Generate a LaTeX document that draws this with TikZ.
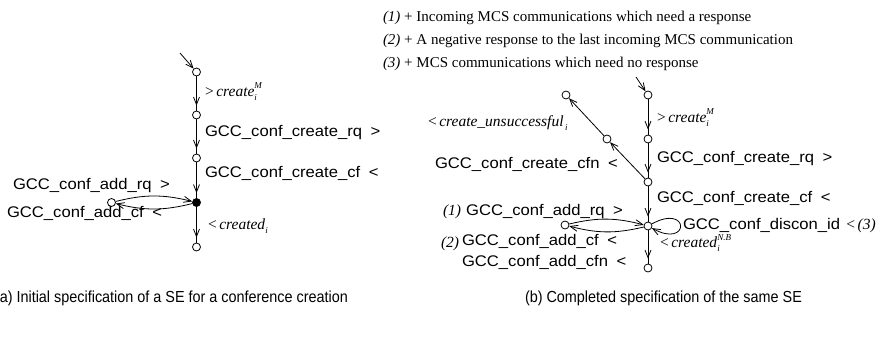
\documentclass[tikz,border=0pt]{standalone}
\usepackage{fontspec}
\setmainfont{Liberation Serif}
\newfontfamily\gccfont[FakeStretch=1.08]{Liberation Sans}
\newfontfamily\capfont[FakeStretch=0.9]{Liberation Sans}
\usetikzlibrary{arrows.meta,decorations.markings}
\newcommand{\gcc}[1]{{\gccfont\fontsize{15.4}{16}\selectfont #1}}
\newcommand{\itl}[1]{{\fontsize{15.5}{16}\selectfont #1}}
\newcommand{\smi}[1]{{\fontsize{9}{9}\selectfont\itshape #1}}
\newcommand{\subsupp}[3]{\makebox[0pt][l]{\raisebox{-4pt}{\smi{#1}}}\raisebox{#3}{\smi{#2}}}
\begin{document}
\begin{tikzpicture}[x=1pt,y=-1pt,
  st/.style={circle,draw,line width=0.8pt,inner sep=0pt,minimum size=8pt,fill=white},
  fst/.style={st,fill=black},
  ed/.style={line width=0.8pt},
  tipend/.style={-{Straight Barb[length=7.5pt,width=6pt]}},
  arrowat/.style={postaction={decorate},decoration={markings,mark=at position -5pt with {\arrow{Straight Barb[length=7.5pt,width=6pt]}}}},
  lab/.style={anchor=base west,inner sep=0pt,outer sep=0pt}
]
\useasboundingbox (0,0) rectangle (887,337);
\clip (0,0) rectangle (887,337);

% ---------- left diagram ----------
\coordinate (ls) at (180,53);
\node[st] (l1) at (196.5,72) {};
\node[st] (l2) at (196.5,115) {};
\node[st] (l3) at (196.5,158) {};
\node[fst] (l4) at (196.5,202.5) {};
\node[st] (l5) at (196.5,247) {};
\node[st] (lw) at (111.5,202.5) {};
\draw[ed,tipend] (ls) -- (l1);
\draw[ed,arrowat] (l1) -- (l2);
\draw[ed,arrowat] (l2) -- (l3);
\draw[ed,arrowat] (l3) -- (l4);
\draw[ed,arrowat] (l4) -- (l5);
\draw[ed,tipend] (l4) to[bend left=14] (lw);
\draw[ed,tipend] (lw) to[bend left=14] (l4);

\node[lab] (tl1) at (205,96) {\itl{{\upshape >}\,\textit{create}\subsupp{i}{M}{8pt}}};
\node[lab] (tl2) at (205,136) {\gcc{GCC\_conf\_create\_rq\hspace{0.55em}>}};
\node[lab] (tl3) at (205,177) {\gcc{GCC\_conf\_create\_cf\hspace{0.55em}<}};
\node[lab] (tl4) at (13,189) {\gcc{GCC\_conf\_add\_rq\hspace{0.55em}>}};
\node[lab] (tl5) at (7,217) {\gcc{GCC\_conf\_add\_cf\hspace{0.55em}<}};
\node[lab] (tl6) at (208,229) {\itl{{\upshape <}\,\textit{created}\raisebox{-4pt}{\smi{i}}}};

% ---------- right diagram ----------
\coordinate (rs) at (636,77);
\node[st] (r1) at (648,95) {};
\node[st] (r2) at (648,139) {};
\node[st] (r3) at (648,182) {};
\node[st] (r4) at (648,226) {};
\node[st] (r5) at (648,268) {};
\node[st] (d1) at (607,139) {};
\node[st] (d2) at (566,95) {};
\node[st] (rw) at (565,225) {};
\draw[ed,tipend] (rs) -- (r1);
\draw[ed,arrowat] (r1) -- (r2);
\draw[ed,arrowat] (r2) -- (r3);
\draw[ed,arrowat] (r3) -- (r4);
\draw[ed,arrowat] (r4) -- (r5);
\draw[ed,tipend] (r3) -- (d1);
\draw[ed,tipend] (d1) -- (d2);
\draw[ed,tipend] (r4) to[bend left=14] (rw);
\draw[ed,tipend] (rw) to[bend left=14] (r4);
\draw[ed,tipend] (r4) .. controls (690,203) and (690,249) .. (r4);

\node[lab] (tr1) at (428,126) {\itl{{\upshape <}\,\textit{create\_unsuccessful}\raisebox{-4pt}{\smi{\,i}}}};
\node[lab] (tr2) at (435,168) {\gcc{GCC\_conf\_create\_cfn\hspace{0.55em}<}};
\node[lab] (tr3) at (657,122) {\itl{{\upshape >}\,\textit{create}\subsupp{i}{M}{8pt}}};
\node[lab] (tr4) at (657,162) {\gcc{GCC\_conf\_create\_rq\hspace{0.55em}>}};
\node[lab] (tr5) at (657,202) {\gcc{GCC\_conf\_create\_cf\hspace{0.55em}<}};
\node[lab] (tr6) at (443,215) {\itl{\textit{(1)}}\hspace{5pt}\gcc{GCC\_conf\_add\_rq\hspace{0.55em}>}};
\node[lab] (tr7) at (683,229) {\gcc{GCC\_conf\_discon\_id\hspace{0.4em}}\itl{{\upshape <}\,\textit{(3)}}};
\node[lab] (tr8) at (441,247) {\itl{\textit{(2)}}};
\node[lab] (tr9) at (462,245) {\gcc{GCC\_conf\_add\_cf\hspace{0.55em}<}};
\node[lab] (tr10) at (462,266) {\gcc{GCC\_conf\_add\_cfn\hspace{0.55em}<}};
\node[lab] (tr11) at (660,247) {\itl{{\upshape <}\,\textit{created}\subsupp{i}{N.B}{6.5pt}}};

% ---------- legend ----------
\node[lab] (g1) at (383,22) {\fontsize{15}{16}\selectfont\textit{(1)} + Incoming MCS communications which need a response};
\node[lab] (g2) at (383,45) {\fontsize{15}{16}\selectfont\textit{(2)} + A negative response to the last incoming MCS communication};
\node[lab] (g3) at (383,68) {\fontsize{15}{16}\selectfont\textit{(3)} + MCS communications which need no response};

% ---------- captions ----------
\node[lab] (ca) at (-5,302) {\capfont\fontsize{16}{17}\selectfont (a) Initial specification of a SE for a conference creation};
\node[lab] (cb) at (525,302) {\capfont\fontsize{16}{17}\selectfont (b) Completed specification of the same SE};
\end{tikzpicture}
\end{document}
